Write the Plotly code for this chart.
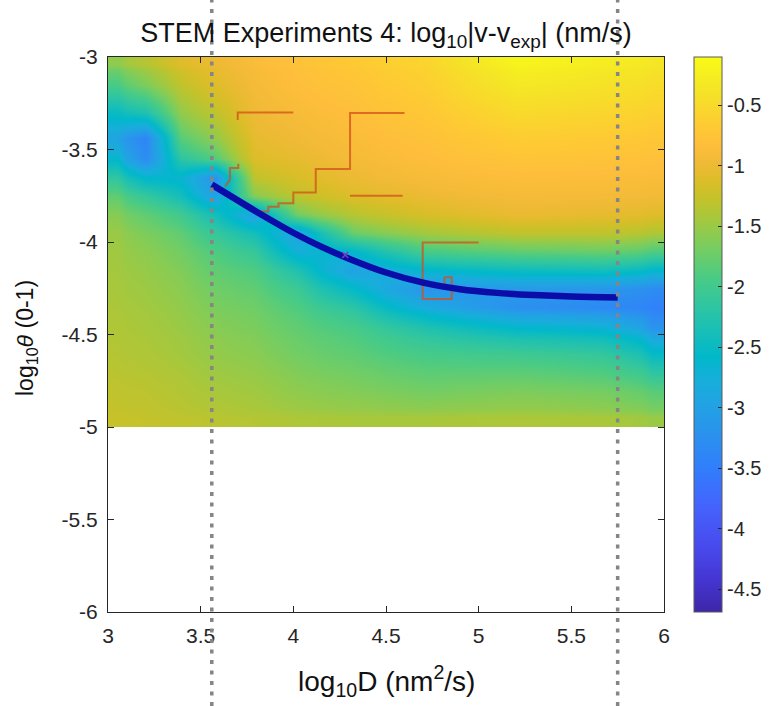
import plotly.graph_objects as go

# ---- sampled field: log10|v - v_exp| on a (log10 D, log10 theta) grid ----
log_D = [3.0, 3.2, 3.4, 3.56, 3.8, 4.0, 4.3, 4.7, 5.2, 5.75, 6.0]
log_theta = [-3.0, -3.15, -3.3, -3.45, -3.55, -3.65, -3.75, -3.85, -3.95,
             -4.05, -4.15, -4.25, -4.35, -4.45, -4.6, -4.8, -5.0]

# one list per log10 D column, ordered like log_theta (top to bottom)
err_D300 = [-1.55, -1.95, -2.5, -2.95, -2.6, -2.15, -1.8, -1.6, -1.5,
            -1.47, -1.45, -1.43, -1.41, -1.39, -1.36, -1.3, -1.25]
err_D320 = [-1.35, -1.65, -2.3, -3.4, -3.3, -2.6, -2.1, -1.8, -1.65,
            -1.57, -1.52, -1.49, -1.46, -1.43, -1.39, -1.32, -1.27]
err_D340 = [-1.1, -1.3, -1.55, -1.85, -2.2, -2.65, -2.4, -2.0, -1.8,
            -1.7, -1.63, -1.58, -1.54, -1.5, -1.45, -1.37, -1.3]
err_D356 = [-1.0, -1.1, -1.3, -1.55, -1.9, -3.2, -3.0, -2.4, -2.1,
            -1.9, -1.8, -1.72, -1.66, -1.6, -1.53, -1.43, -1.33]
err_D380 = [-0.88, -0.93, -0.98, -1.05, -1.12, -1.3, -1.6, -3.0, -2.4,
            -2.1, -1.9, -1.8, -1.72, -1.66, -1.58, -1.47, -1.36]
err_D400 = [-0.78, -0.83, -0.9, -0.97, -1.05, -1.15, -1.3, -1.7, -3.0,
            -2.75, -2.3, -2.05, -1.9, -1.8, -1.7, -1.56, -1.4]
err_D430 = [-0.68, -0.75, -0.82, -0.88, -0.93, -1.0, -1.12, -1.35, -1.75,
            -2.6, -3.0, -2.55, -2.2, -1.95, -1.8, -1.62, -1.42]
err_D470 = [-0.55, -0.62, -0.7, -0.78, -0.84, -0.9, -1.0, -1.15, -1.45,
            -1.95, -2.6, -3.2, -2.85, -2.3, -1.95, -1.7, -1.42]
err_D520 = [-0.18, -0.33, -0.5, -0.65, -0.75, -0.85, -0.92, -1.02, -1.3,
            -1.8, -2.45, -3.1, -3.25, -2.6, -2.0, -1.65, -1.4]
err_D575 = [-0.28, -0.4, -0.55, -0.68, -0.77, -0.86, -0.93, -1.05, -1.3,
            -1.75, -2.4, -3.15, -3.35, -2.7, -2.1, -1.7, -1.42]
err_D600 = [-0.35, -0.47, -0.6, -0.72, -0.8, -0.88, -0.96, -1.1, -1.4,
            -1.9, -2.6, -3.3, -3.45, -3.2, -2.5, -1.85, -1.5]
err_columns = [err_D300, err_D320, err_D340, err_D356, err_D380, err_D400,
               err_D430, err_D470, err_D520, err_D575, err_D600]

# best-fit curve through the error valley
best_D = [3.56, 3.7, 3.85, 4.0, 4.15, 4.3, 4.5, 4.7, 4.9, 5.1, 5.3, 5.5, 5.75]
best_theta = [-3.69, -3.775, -3.865, -3.95, -4.025, -4.09, -4.165, -4.22,
              -4.255, -4.275, -4.287, -4.295, -4.30]
fit_mark_D = [4.28]
fit_mark_theta = [-4.07]

# optimiser search paths (None separates paths)
path_D = [3.70, 3.70, 4.00, None,
          3.631, 3.658, 3.658, 3.703, 3.703, None,
          3.811, 3.865, 3.865, 3.92, 3.92, 4.00, 4.00, 4.121, 4.121, 4.306,
          4.306, 4.60, None,
          4.306, 4.59, None,
          5.00, 4.698, 4.698, 4.855, 4.855, None,
          4.815, 4.855, 4.855, 4.815, 4.815]
path_theta = [-3.34, -3.30, -3.30, None,
              -3.70, -3.664, -3.60, -3.60, -3.577, None,
              -3.835, -3.835, -3.81, -3.81, -3.79, -3.79, -3.733, -3.733,
              -3.606, -3.606, -3.303, -3.303, None,
              -3.75, -3.75, None,
              -4.003, -4.003, -4.308, -4.308, -4.241, None,
              -4.19, -4.19, -4.24, -4.24, -4.19]

# bounds of the fitted D window
window_D = [3.56, 5.75]

x_ticks = [3, 3.5, 4, 4.5, 5, 5.5, 6]
x_ticktext = ["3", "3.5", "4", "4.5", "5", "5.5", "6"]
y_ticks = [-3, -3.5, -4, -4.5, -5, -5.5, -6]
y_ticktext = ["-3", "-3.5", "-4", "-4.5", "-5", "-5.5", "-6"]
cb_ticks = [-0.5, -1, -1.5, -2, -2.5, -3, -3.5, -4, -4.5]
cb_ticktext = ["-0.5", "-1", "-1.5", "-2", "-2.5", "-3", "-3.5", "-4", "-4.5"]

X_RANGE = [3, 6]
Y_RANGE = [-6, -3]
C_RANGE = [-4.69, -0.1]

# parula colour map: (index in a 64-step table, r, g, b)
parula = [
    (0, 0.2422, 0.1504, 0.6603), (4, 0.2706, 0.2147, 0.8364),
    (8, 0.2813, 0.3006, 0.9414), (12, 0.2699, 0.3892, 0.9906),
    (16, 0.1963, 0.4847, 0.9892), (20, 0.1687, 0.5703, 0.9359),
    (23, 0.1380, 0.6276, 0.8973), (26, 0.0952, 0.6798, 0.8598),
    (29, 0.0036, 0.7203, 0.7917), (32, 0.0964, 0.7500, 0.7120),
    (35, 0.1938, 0.7758, 0.6251), (38, 0.2906, 0.7973, 0.5188),
    (41, 0.4456, 0.8024, 0.3909), (43, 0.5616, 0.7942, 0.3045),
    (45, 0.6720, 0.7793, 0.2227), (47, 0.7738, 0.7598, 0.1646),
    (49, 0.8634, 0.7406, 0.1596), (51, 0.9393, 0.7288, 0.2100),
    (53, 0.9956, 0.7434, 0.2371), (55, 0.9952, 0.7893, 0.2028),
    (57, 0.9786, 0.8386, 0.1766), (59, 0.9610, 0.8890, 0.1537),
    (61, 0.9628, 0.9373, 0.1265), (63, 0.9769, 0.9839, 0.0805),
]
colorscale = [[i / 63, "rgb(%d,%d,%d)" % (round(255 * r), round(255 * g),
                                         round(255 * b))]
              for i, r, g, b in parula]


def edges(centres, lo, hi):
    """Cell boundaries for the heatmap so the image spans exactly [lo, hi]."""
    mids = [(a + b) / 2 for a, b in zip(centres[:-1], centres[1:])]
    return [lo] + mids + [hi]


z = [list(row) for row in zip(*err_columns)]  # rows follow log_theta

TXT = "#262626"
FONT = "Liberation Sans, Arial, Helvetica, sans-serif"

fig = go.Figure()
fig.add_trace(go.Heatmap(
    x=edges(log_D, log_D[0], log_D[-1]),
    y=edges(log_theta, log_theta[0], log_theta[-1]),
    z=z,
    zsmooth="best",
    colorscale=colorscale,
    zmin=C_RANGE[0], zmax=C_RANGE[1],
    hoverinfo="skip",
    colorbar=dict(
        x=(694 - 108) / 556, xanchor="left", xpad=0,
        y=0.5, yanchor="middle", ypad=0, len=1, lenmode="fraction",
        thickness=28, outlinewidth=1, outlinecolor="#5a5a5a",
        tickmode="array", tickvals=cb_ticks, ticktext=cb_ticktext,
        ticks="inside", ticklen=4, tickcolor=TXT,
        tickfont=dict(size=20, color=TXT, family=FONT),
    ),
))
fig.add_trace(go.Scatter(
    x=path_D, y=path_theta, mode="lines",
    line=dict(color="rgba(210,80,24,0.75)", width=2),
    hoverinfo="skip", showlegend=False,
))
fig.add_trace(go.Scatter(
    x=best_D, y=best_theta, mode="lines",
    line=dict(color="#0c0ca8", width=6.5, shape="spline"),
    hoverinfo="skip", showlegend=False,
))
fig.add_trace(go.Scatter(
    x=fit_mark_D, y=fit_mark_theta, mode="markers",
    marker=dict(symbol="x-thin", size=6, line=dict(color="#7a3cc0", width=1.5)),
    hoverinfo="skip", showlegend=False,
))

# dotted guides for the D window, spanning the whole figure height
for xv in window_D:
    xd = (xv - X_RANGE[0]) / (X_RANGE[1] - X_RANGE[0])
    fig.add_shape(type="line", xref="x domain", yref="paper",
                  x0=xd, x1=xd, y0=-94 / 555, y1=1 + 57 / 555,
                  line=dict(color="#858585", width=3.5, dash="4px,6.5px"),
                  layer="above")

axis_common = dict(
    showline=True, linecolor=TXT, linewidth=1, mirror="ticks",
    ticks="inside", ticklen=6, tickcolor=TXT, showgrid=False, zeroline=False,
    tickfont=dict(size=21, color=TXT, family=FONT), tickmode="array",
)
fig.update_xaxes(range=X_RANGE, tickvals=x_ticks, ticktext=x_ticktext,
                 ticklabelstandoff=5, **axis_common)
fig.update_yaxes(range=Y_RANGE, tickvals=y_ticks, ticktext=y_ticktext,
                 ticklabelstandoff=5, **axis_common)

fig.update_layout(
    width=772, height=706,
    margin=dict(l=108, r=108, t=57, b=94, autoexpand=False),
    paper_bgcolor="white", plot_bgcolor="white",
    font=dict(family=FONT, color=TXT),
    title=dict(
        text="STEM Experiments 4: log<sub>10</sub>|v-v<sub>exp</sub>| (nm/s)",
        x=0.5, xref="paper", xanchor="center",
        y=1 - 33 / 706, yref="container", yanchor="middle",
        font=dict(size=27, color="#111111", family=FONT),
    ),
    annotations=[
        dict(text="log<sub>10</sub>D (nm<sup>2</sup>/s)", xref="paper",
             yref="paper", x=0.5, y=-(681 - 612) / 555, xanchor="center",
             yanchor="middle", showarrow=False,
             font=dict(size=28, color="#111111", family=FONT)),
        dict(text="log<sub>10</sub><i>θ</i> (0-1)", xref="paper",
             yref="paper", x=-(108 - 27) / 556, y=(612 - 338) / 555,
             textangle=-90, xanchor="center", yanchor="middle",
             showarrow=False,
             font=dict(size=23, color="#111111", family=FONT)),
    ],
)

fig.write_html("out.html")
